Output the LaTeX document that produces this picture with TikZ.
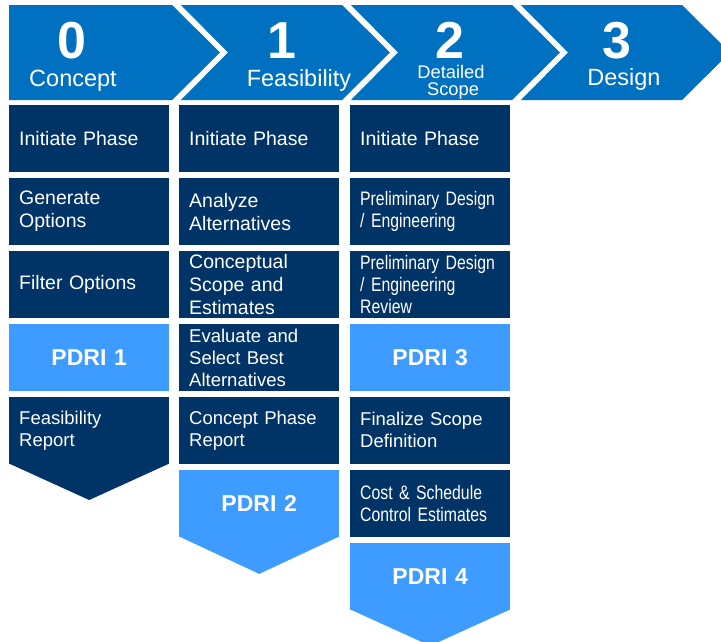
\documentclass[tikz,border=0pt]{standalone}
\usepackage{fontspec}
\setmainfont{Liberation Sans}
\newfontfamily\narrowfont[FakeStretch=0.81]{Liberation Sans}
\usetikzlibrary{positioning}

\definecolor{phaseblue}{RGB}{0,112,192}
\definecolor{taskblue}{RGB}{0,51,102}
\definecolor{pdriblue}{RGB}{62,155,255}

\begin{document}
\begin{tikzpicture}[
    x=1pt, y=-1pt,%< -- pixel coordinates, y running down
    node distance=5.5pt,
    task/.style={rectangle, fill=taskblue, text=white, anchor=north west,
      minimum height=67pt, text width=140pt, inner xsep=10pt, inner ysep=0pt,
      align=left, font=\fontsize{19.5}{23}\selectfont},
    smalltask/.style={task, font=\fontsize{18.5}{22}\selectfont},
    narrowtask/.style={task, font=\narrowfont\fontsize{19.5}{22}\selectfont},
    pdri/.style={task, fill=pdriblue, align=center,
      font=\fontsize{23}{27}\selectfont\bfseries},
    phasenum/.style={text=white, inner sep=0pt,
      font=\fontsize{52}{52}\selectfont\bfseries},
    phasename/.style={text=white, inner sep=0pt, anchor=base,
      font=\fontsize{23.5}{26}\selectfont},
    phasesmall/.style={phasename, font=\fontsize{18.3}{20}\selectfont}
]
\useasboundingbox (0,0) rectangle (721,641);

% phase banner
\fill[phaseblue] (9,5) -- (172,5) -- (220,52.5) -- (172,100) -- (9,100) -- cycle;
\foreach \i in {1,2,3}{
  \fill[phaseblue] ({11+170*\i},5) -- ({172+170*\i},5) -- ({220+170*\i},52.5)
    -- ({172+170*\i},100) -- ({11+170*\i},100) -- ({58+170*\i},52.5) -- cycle;
}
\node[phasenum] (num0) at (72,40.5) {0};
\node[phasename] (name0) at (73,86) {Concept};
\node[phasenum] (num1) at (282,40.5) {1};
\node[phasename] (name1) at (299,86) {Feasibility};
\node[phasenum] (num2) at (450,40) {2};
\node[phasesmall] (name2a) at (451,78.5) {Detailed};
\node[phasesmall] (name2b) at (453,95.5) {Scope};
\node[phasenum] (num3) at (617,40.5) {3};
\node[phasename] (name3) at (624,85) {Design};

% column 0
\node[task] (c0a) at (9,105) {Initiate Phase};
\node[task, below=of c0a] (c0b) {Generate\\Options};
\node[task, below=of c0b] (c0c) {Filter Options};
\node[pdri, below=of c0c] (c0d) {PDRI 1};
\node[smalltask, below=of c0d] (c0e) {Feasibility\\Report};
\fill[taskblue] ([yshift=0.5pt]c0e.south west) -- ([yshift=0.5pt]c0e.south east)
  -- ([yshift=-36pt]c0e.south) -- cycle;

% column 1
\node[task] (c1a) at (179,105) {Initiate Phase};
\node[task, below=of c1a] (c1b) {Analyze\\Alternatives};
\node[task, below=of c1b] (c1c) {Conceptual\\Scope and\\Estimates};
\node[smalltask, below=of c1c] (c1d) {Evaluate and\\Select Best\\Alternatives};
\node[smalltask, below=of c1d] (c1e) {Concept Phase\\Report};
\node[pdri, below=of c1e] (c1f) {PDRI 2};
\fill[pdriblue] ([yshift=0.5pt]c1f.south west) -- ([yshift=0.5pt]c1f.south east)
  -- ([yshift=-37pt]c1f.south) -- cycle;

% column 2
\node[task] (c2a) at (350,105) {Initiate Phase};
\node[narrowtask, below=of c2a] (c2b) {Preliminary Design\\/ Engineering};
\node[narrowtask, below=of c2b] (c2c) {Preliminary Design\\/ Engineering\\Review};
\node[pdri, below=of c2c] (c2d) {PDRI 3};
\node[smalltask, below=of c2d] (c2e) {Finalize Scope\\Definition};
\node[narrowtask, below=of c2e] (c2f) {Cost \& Schedule\\Control Estimates};
\node[pdri, below=of c2f] (c2g) {PDRI 4};
\fill[pdriblue] ([yshift=0.5pt]c2g.south west) -- ([yshift=0.5pt]c2g.south east)
  -- ([yshift=-36pt]c2g.south) -- cycle;
\end{tikzpicture}
\end{document}
